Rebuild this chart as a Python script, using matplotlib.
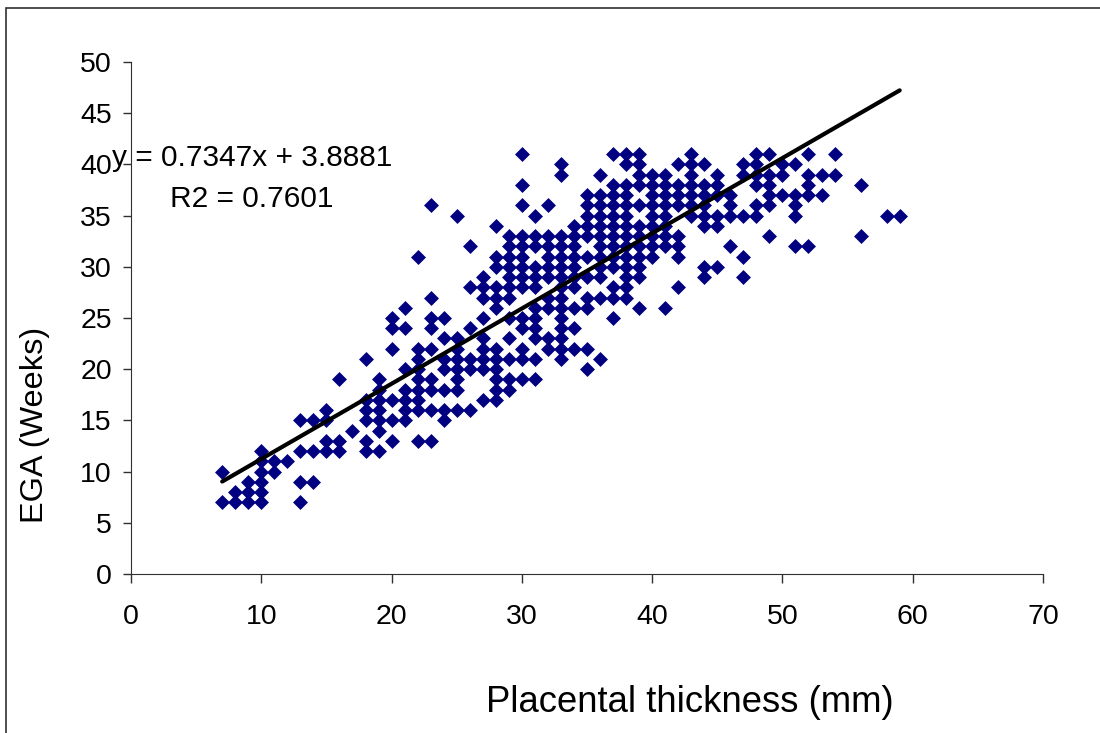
import matplotlib
matplotlib.use("Agg")
import matplotlib.pyplot as plt
from matplotlib.patches import Rectangle

# EGA values, one list per thickness (mm)
thickness = [7, 8, 9, 10, 11, 12, 13, 14, 15, 16, 17, 18, 19, 20, 21, 22, 23, 24, 25, 26,
             27, 28, 29, 30, 31, 32, 33, 34, 35, 36, 37, 38, 39, 40, 41, 42, 43, 44, 45,
             46, 47, 48, 49, 50, 51, 52, 53, 54, 56, 58, 59]
ega = [
    [10, 7],
    [8, 7],
    [9, 8, 7],
    [12, 11, 10, 9, 8, 7],
    [11, 10],
    [11],
    [15, 12, 9, 7],
    [15, 12, 9],
    [16, 15, 13, 12],
    [19, 13, 12],
    [14],
    [21, 17, 16, 15, 13, 12],
    [19, 18, 17, 16, 15, 14, 12],
    [25, 24, 22, 17, 15, 13],
    [26, 24, 20, 18, 17, 16, 15],
    [31, 22, 21, 20, 19, 18, 17, 16, 13],
    [36, 27, 25, 24, 22, 19, 18, 16, 13],
    [25, 23, 21, 20, 18, 16, 15],
    [35, 23, 22, 21, 20, 19, 18, 16],
    [32, 28, 24, 21, 20, 16],
    [29, 28, 27, 25, 23, 22, 21, 20, 17],
    [34, 31, 30, 28, 27, 26, 22, 21, 20, 19, 18, 17],
    [33, 32, 31, 30, 29, 28, 27, 25, 23, 21, 19, 18],
    [41, 38, 36, 33, 32, 31, 30, 29, 28, 25, 24, 22, 21, 19],
    [35, 33, 32, 30, 29, 28, 26, 25, 24, 23, 21, 19],
    [36, 33, 32, 31, 30, 29, 27, 26, 23, 22],
    [40, 39, 33, 32, 31, 30, 29, 28, 27, 26, 25, 24, 23, 22, 21],
    [34, 33, 32, 31, 30, 29, 28, 26, 24, 22],
    [37, 36, 35, 34, 33, 31, 29, 27, 26, 22, 20],
    [39, 37, 36, 35, 34, 33, 32, 31, 30, 29, 27, 21],
    [41, 38, 37, 36, 35, 34, 33, 32, 31, 30, 28, 27, 25],
    [41, 40, 38, 37, 36, 35, 34, 33, 32, 31, 30, 29, 28, 27],
    [41, 40, 39, 38, 36, 34, 33, 32, 31, 30, 29, 26],
    [39, 38, 37, 36, 35, 34, 33, 32, 31],
    [39, 38, 37, 36, 35, 34, 33, 32, 26],
    [40, 38, 37, 36, 33, 32, 31, 28],
    [41, 40, 39, 38, 37, 36, 35],
    [40, 38, 37, 36, 35, 34, 30, 29],
    [39, 38, 37, 35, 34, 30],
    [37, 36, 35, 32],
    [40, 39, 35, 31, 29],
    [41, 40, 39, 38, 36, 35],
    [41, 39, 38, 37, 36, 33],
    [40, 39, 37],
    [40, 37, 36, 35, 32],
    [41, 39, 38, 37, 32],
    [39, 37],
    [41, 39],
    [38, 33],
    [35],
    [35],
]

fit_x = [7, 59]
fit_y = [9.03, 47.23]

x_ticks = [0, 10, 20, 30, 40, 50, 60, 70]
y_ticks = [0, 5, 10, 15, 20, 25, 30, 35, 40, 45, 50]

plt.rcParams['font.family'] = ['Liberation Sans', 'DejaVu Sans']

W, H = 1100, 733
fig = plt.figure(figsize=(W / 100, H / 100), dpi=100)
ax = fig.add_axes([131 / W, 1 - 574 / H, (1043 - 131) / W, (574 - 62) / H])

# marco exterior del grafico
fig.patches.append(Rectangle((6 / W, -0.02), 1.1, 1 - 8 / H + 0.02, transform=fig.transFigure,
                             fill=False, edgecolor='#303030', linewidth=1.2))

xs = []
ys = []
for t, valores in zip(thickness, ega):
    for v in valores:
        xs.append(t)
        ys.append(v)

ax.scatter(xs, ys, marker='D', s=58, color='#000080', linewidths=0, zorder=2, clip_on=False)
ax.plot(fit_x, fit_y, color='black', linewidth=3, solid_capstyle='round', zorder=3)

ax.set_xlim(0, 70)
ax.set_ylim(0, 50)
ax.set_xticks(x_ticks)
ax.set_yticks(y_ticks)
ax.tick_params(axis='x', labelsize=20.5, length=6.5, width=1, color='#303030', pad=15)
ax.tick_params(axis='y', labelsize=20.5, length=5.8, width=1, color='#303030', pad=8)
ax.spines['top'].set_visible(False)
ax.spines['right'].set_visible(False)
ax.spines['left'].set_color('#303030')
ax.spines['bottom'].set_color('#303030')
ax.set_facecolor('none')

fig.text(35 / W, 1 - 425 / H, "EGA (Weeks)", rotation=90, fontsize=23.4, ha='center', va='center')
fig.text(690 / W, 1 - 702 / H, "Placental thickness (mm)", fontsize=26.3, ha='center', va='center')
fig.text(252 / W, 1 - 158 / H, "y = 0.7347x + 3.8881", fontsize=21.5, ha='center', va='center')
fig.text(252 / W, 1 - 199 / H, "R2 = 0.7601", fontsize=21.5, ha='center', va='center')

fig.savefig("out.png", dpi=100)
